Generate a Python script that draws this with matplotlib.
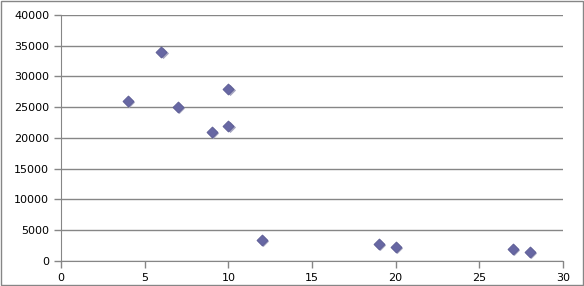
import matplotlib
matplotlib.use("Agg")
import matplotlib.pyplot as plt
from matplotlib.patches import Rectangle

# data
x_vals = [4, 6, 7, 9, 10, 10, 12, 19, 20, 27, 28]
y_vals = [26000, 34000, 25000, 21000, 28000, 22000, 3400, 2700, 2300, 2000, 1400]

x_ticks = [0, 5, 10, 15, 20, 25, 30]
y_ticks = [0, 5000, 10000, 15000, 20000, 25000, 30000, 35000, 40000]

grey = "#868686"

fig = plt.figure(figsize=(5.84, 2.86), dpi=100)
fig.patches.append(Rectangle((0.001, 0.002), 0.997, 0.995, transform=fig.transFigure,
                             fill=False, edgecolor=grey, linewidth=1))
ax = fig.add_axes([0.1045, 0.0874, 0.8595, 0.8602])

# shadow, then marker
ax.scatter([x + 0.07 for x in x_vals], [y - 170 for y in y_vals], marker="D", s=32,
           color="#a4a4c0", linewidths=0, zorder=2)
ax.scatter(x_vals, y_vals, marker="D", s=32, color="#6767a3", edgecolors="#55558f",
           linewidths=0.5, zorder=3)

ax.set_xlim(0, 30)
ax.set_ylim(0, 40000)
ax.set_xticks(x_ticks)
ax.set_yticks(y_ticks)
ax.yaxis.grid(True, color=grey, linewidth=1)
ax.set_axisbelow(True)
for side in ["top", "right"]:
    ax.spines[side].set_visible(False)
for side in ["left", "bottom"]:
    ax.spines[side].set_color(grey)
ax.tick_params(colors=grey, labelcolor="black", labelsize=8, length=5, width=1, direction="out")

fig.savefig("out.png", dpi=100)
